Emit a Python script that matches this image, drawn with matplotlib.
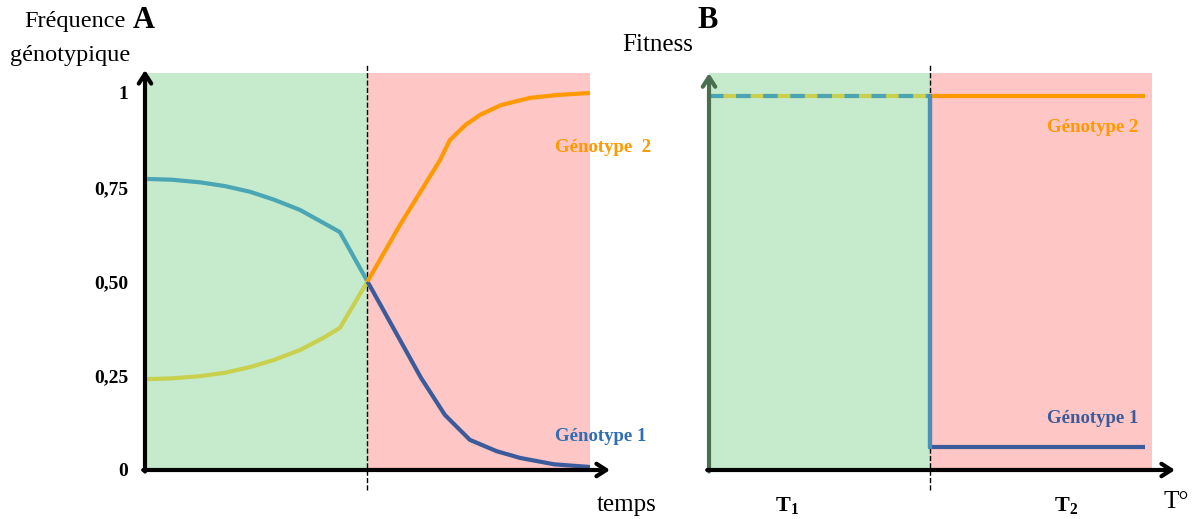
import numpy as np
import matplotlib
matplotlib.use("Agg")
import matplotlib.pyplot as plt

plt.rcParams['font.family'] = ['Liberation Serif', 'DejaVu Serif']
plt.rcParams['mathtext.fontset'] = 'custom'
plt.rcParams['mathtext.rm'] = 'Liberation Serif'
plt.rcParams['mathtext.bf'] = 'Liberation Serif:bold'

# panel A : genotype frequencies through time (time scaled 0..1, change at 0.5)
t_before = [0.005, 0.06, 0.124, 0.18, 0.236, 0.29, 0.348, 0.40, 0.438, 0.50]
g1_before = [0.772, 0.770, 0.763, 0.753, 0.738, 0.717, 0.690, 0.656, 0.631, 0.500]
g2_before = [0.241, 0.243, 0.249, 0.258, 0.273, 0.292, 0.318, 0.350, 0.377, 0.500]

t_after_g1 = [0.50, 0.573, 0.62, 0.674, 0.73, 0.79, 0.843, 0.92, 1.0]
g1_after = [0.500, 0.345, 0.245, 0.146, 0.080, 0.050, 0.032, 0.015, 0.008]

t_after_g2 = [0.50, 0.573, 0.663, 0.685, 0.72, 0.753, 0.80, 0.865, 0.93, 1.0]
g2_after = [0.500, 0.650, 0.822, 0.875, 0.915, 0.942, 0.968, 0.987, 0.995, 1.0]

freq_ticks = [0, 0.25, 0.5, 0.75, 1]
freq_labels = ['0', '0,25', '0,50', '0,75', '1']

# panel B : fitness against temperature
temp_split = 0.5
fit_high = 1.0
fit_g1_low = 0.061

c_green = '#c5ebcc'
c_red = '#ffc6c6'
c_teal = '#4aa6b4'
c_yellow = '#c9d04e'
c_orange = '#ff9900'
c_blue = '#3b5b9b'

fig = plt.figure(figsize=(11.97, 5.19), dpi=100)

# ---------------- A ----------------
axA = fig.add_axes([145 / 1197, 49 / 519, 465 / 1197, 400 / 519])
axA.set_xlim(0, 1.045)
axA.set_ylim(0, 1.061)
axA.fill_between([0, 0.5], 0, 1.053, color=c_green, lw=0)
axA.fill_between([0.5, 1.0], 0, 1.053, color=c_red, lw=0)
axA.plot([0.5, 0.5], [-0.053, 1.075], color='k', ls='--', lw=1, clip_on=False, zorder=3)

axA.plot(t_before, g1_before, color=c_teal, lw=3, solid_capstyle='butt', zorder=4)
axA.plot(t_before, g2_before, color=c_yellow, lw=3, solid_capstyle='butt', zorder=4)
axA.plot(t_after_g1, g1_after, color=c_blue, lw=3, solid_capstyle='butt', zorder=4)
axA.plot(t_after_g2, g2_after, color=c_orange, lw=3, solid_capstyle='butt', zorder=4)

arrow = dict(arrowstyle='->,head_length=0.7,head_width=0.45', lw=3, color='k', shrinkA=0, shrinkB=0)
axA.annotate('', xy=(0, 1.061), xytext=(0, -0.004), arrowprops=arrow, annotation_clip=False, zorder=5)
axA.annotate('', xy=(1.045, 0), xytext=(-0.004, 0), arrowprops=arrow, annotation_clip=False, zorder=5)

for s in axA.spines.values():
    s.set_visible(False)
axA.set_xticks([])
axA.set_yticks(freq_ticks)
axA.set_yticklabels(freq_labels, fontsize=14, fontweight='bold')
axA.tick_params(axis='y', length=0, pad=12)

axA.text(0.921, 0.855, 'Génotype  2', color=c_orange, fontsize=13.5, fontweight='bold',
         ha='left', va='center', clip_on=False, zorder=6)
axA.text(0.921, 0.09, 'Génotype 1', color='#2f6db5', fontsize=13.5, fontweight='bold',
         ha='left', va='center', clip_on=False, zorder=6)
fig.text(627 / 1197, 1 - 505 / 519, 'temps', fontsize=18, ha='center', va='center')
fig.text(75 / 1197, 1 - 22 / 519, 'Fréquence', fontsize=17.5, ha='center', va='center')
fig.text(70 / 1197, 1 - 55 / 519, 'génotypique', fontsize=17.5, ha='center', va='center')
fig.text(133 / 1197, 1 - 20 / 519, 'A', fontsize=22, fontweight='bold', ha='left', va='center')

# ---------------- B ----------------
axB = fig.add_axes([709 / 1197, 49 / 519, 466 / 1197, 400 / 519])
axB.set_xlim(0, 1.052)
axB.set_ylim(0, 1.0695)
axB.fill_between([0, temp_split], 0, 1.061, color=c_green, lw=0)
axB.fill_between([temp_split, 1.0], 0, 1.061, color=c_red, lw=0)
axB.plot([temp_split, temp_split], [-0.053, 1.085], color='k', ls='--', lw=1, clip_on=False, zorder=3)

axB.plot([0.0, temp_split], [fit_high, fit_high], color=c_yellow, lw=3, solid_capstyle='butt', zorder=4)
axB.plot([0.0, temp_split], [fit_high, fit_high], color=c_teal, lw=3, ls=(0, (3.5, 3.0)), zorder=4)
axB.plot([temp_split, 0.985], [fit_high, fit_high], color=c_orange, lw=3, solid_capstyle='butt', zorder=4)
axB.plot([temp_split, temp_split, 0.985], [fit_high, fit_g1_low, fit_g1_low],
         color=c_blue, lw=3, solid_capstyle='butt', zorder=4)
axB.plot([temp_split, temp_split], [fit_high, fit_g1_low], color='#4b90b8', lw=3, zorder=4)

arrowB = dict(arrow, color='#4a6e50')
axB.annotate('', xy=(0, 1.061), xytext=(0, -0.004), arrowprops=arrowB, annotation_clip=False, zorder=5)
axB.annotate('', xy=(1.052, 0), xytext=(-0.004, 0), arrowprops=arrow, annotation_clip=False, zorder=5)
axB.axis('off')

axB.text(0.97, 0.917, 'Génotype 2', color=c_orange, fontsize=13.5, fontweight='bold',
         ha='right', va='center')
axB.text(0.97, 0.139, 'Génotype 1', color=c_blue, fontsize=13.5, fontweight='bold',
         ha='right', va='center')
fig.text(787 / 1197, 1 - 506 / 519, r'$\mathbf{T_1}$', fontsize=16, ha='center', va='center')
fig.text(1066 / 1197, 1 - 506 / 519, r'$\mathbf{T_2}$', fontsize=16, ha='center', va='center')
fig.text(1176 / 1197, 1 - 502 / 519, 'T°', fontsize=18, ha='center', va='center')
fig.text(658 / 1197, 1 - 45 / 519, 'Fitness', fontsize=18, ha='center', va='center')
fig.text(697 / 1197, 1 - 20 / 519, 'B', fontsize=22, fontweight='bold', ha='left', va='center')

fig.savefig('out.png', dpi=100)
